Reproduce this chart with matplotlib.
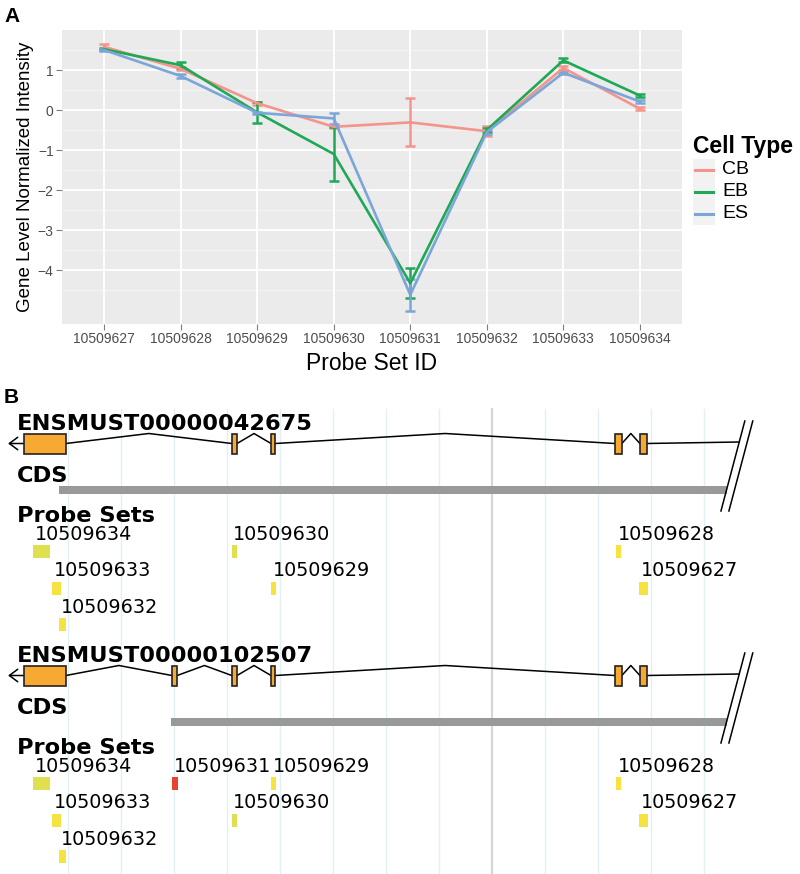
import numpy as np
import matplotlib.pyplot as plt
from matplotlib.patches import Rectangle

plt.rcParams['font.family'] = ['Liberation Sans', 'DejaVu Sans']

# ---- panel A data ----
probe_ids = ['10509627', '10509628', '10509629', '10509630',
             '10509631', '10509632', '10509633', '10509634']
cell_types = ['CB', 'EB', 'ES']
cb_mean = [1.58, 1.03, 0.17, -0.42, -0.31, -0.53, 1.05, 0.03]
cb_err = [0.07, 0.04, 0.04, 0.04, 0.60, 0.13, 0.04, 0.04]
eb_mean = [1.52, 1.12, -0.06, -1.10, -4.33, -0.50, 1.24, 0.36]
eb_err = [0.03, 0.07, 0.26, 0.67, 0.37, 0.04, 0.05, 0.04]
es_mean = [1.50, 0.85, -0.07, -0.21, -4.62, -0.55, 0.93, 0.21]
es_err = [0.03, 0.04, 0.03, 0.13, 0.40, 0.04, 0.03, 0.04]
colors = ['#F4948B', '#1FA856', '#7BA6D8']

# ---- panel B data (positions in kb along the locus) ----
transcripts = ['ENSMUST00000042675', 'ENSMUST00000102507']
exons_t1 = [(-0.83, -0.04), (3.09, 3.19), (3.83, 3.91), (10.32, 10.45), (10.79, 10.92)]
exons_t2 = [(-0.83, -0.04), (1.96, 2.06), (3.09, 3.19), (3.83, 3.91), (10.32, 10.45), (10.79, 10.92)]
cds_t1 = (-0.17, 12.43)
cds_t2 = (1.94, 12.43)
locus_end = 12.66
tss_tip = -1.13

probes_t1 = ['10509634', '10509633', '10509632', '10509630', '10509629', '10509628', '10509627']
pstart_t1 = [-0.66, -0.30, -0.17, 3.09, 3.83, 10.34, 10.77]
pend_t1 = [-0.34, -0.13, -0.04, 3.19, 3.92, 10.43, 10.94]
prow_t1 = [0, 1, 2, 0, 1, 0, 1]
pcol_t1 = ['#DFE04F', '#F7E33F', '#F7E33F', '#DFE04F', '#F7E33F', '#F7E33F', '#F7E33F']

probes_t2 = ['10509634', '10509633', '10509632', '10509631', '10509630', '10509629', '10509628', '10509627']
pstart_t2 = [-0.66, -0.30, -0.17, 1.96, 3.09, 3.83, 10.34, 10.77]
pend_t2 = [-0.34, -0.13, -0.04, 2.08, 3.19, 3.92, 10.43, 10.94]
prow_t2 = [0, 1, 2, 0, 1, 0, 0, 1]
pcol_t2 = ['#DFE04F', '#F7E33F', '#F7E33F', '#E84330', '#DFE04F', '#F7E33F', '#F7E33F', '#F7E33F']

grid_kb = np.arange(0, 13)

W, H = 800, 874
fig = plt.figure(figsize=(W / 100, H / 100), dpi=100)


def px_axes(l, t, r, b):
    return fig.add_axes([l / W, 1 - b / H, (r - l) / W, (b - t) / H])


# ---------------- Panel A ----------------
axA = px_axes(62, 30, 682, 324)
axA.set_facecolor('#EBEBEB')
x = np.arange(1, len(probe_ids) + 1)
for yv in np.arange(-5, 2.01, 0.5):
    if yv != int(yv):
        axA.axhline(yv, color='#F5F5F5', lw=0.7, zorder=0)
for yv in range(-4, 2):
    axA.axhline(yv, color='white', lw=1.3, zorder=0)
for xv in x:
    axA.axvline(xv, color='white', lw=1.3, zorder=0)

for mean, err, c in zip([cb_mean, eb_mean, es_mean], [cb_err, eb_err, es_err], colors):
    axA.errorbar(x, mean, yerr=err, color=c, lw=1.9, elinewidth=1.8,
                 capsize=3.5, capthick=1.8, zorder=3)

axA.set_xlim(0.45, 8.55)
axA.set_ylim(-5.35, 2.0)
axA.set_xticks(x)
axA.set_xticklabels(probe_ids)
axA.set_yticks(range(-4, 2))
for s in axA.spines.values():
    s.set_visible(False)
axA.tick_params(length=4, width=0.8, color='#7F7F7F', labelcolor='#4D4D4D',
                labelsize=10, pad=2)
axA.set_xlabel('Probe Set ID', fontsize=16.5, labelpad=4)
axA.set_ylabel('Gene Level Normalized Intensity', fontsize=13.5, labelpad=3)

# ---------------- Panel B ----------------
axB = fig.add_axes([0, 0, 1, (H - 380) / H])
axB.set_xlim(-68 / 53, (W - 68) / 53)
axB.set_ylim(H, 380)
axB.axis('off')

# overlay in pixel coordinates for labels/legend (on top)
axO = fig.add_axes([0, 0, 1, 1])
axO.set_xlim(0, W)
axO.set_ylim(H, 0)
axO.axis('off')
axO.set_zorder(5)

# legend
axO.text(693, 147, 'Cell Type', fontsize=16.5, fontweight='bold', va='center', ha='left')
for i, (name, c) in enumerate(zip(cell_types, colors)):
    yc = 170 + 22 * i
    axO.add_patch(Rectangle((693, yc - 11), 22, 22, fc='#F2F2F2', ec='none'))
    axO.plot([695, 713], [yc, yc], color=c, lw=2.2)
    axO.text(722, yc, name, fontsize=14, va='center', ha='left')

axO.text(4, 22, 'A', fontsize=15, fontweight='bold', va='baseline')
axO.text(4, 403, 'B', fontsize=15, fontweight='bold', va='baseline')

for g in grid_kb:
    axB.plot([g, g], [409, H], color='#D6D6D6' if g == 8 else '#E2F0F4',
             lw=1.6 if g == 8 else 1.0, zorder=0)

bold = dict(family='DejaVu Sans', fontweight='bold', fontsize=16.2, va='baseline', ha='left')
tracks = [(430, transcripts[0], exons_t1, cds_t1, probes_t1, pstart_t1, pend_t1, prow_t1, pcol_t1),
          (662, transcripts[1], exons_t2, cds_t2, probes_t2, pstart_t2, pend_t2, prow_t2, pcol_t2)]

for base, name, exons, cds, pn, ps, pe, pr, pc in tracks:
    gy = base + 13.5
    axO.text(17, base, name, **bold)
    axO.text(17, base + 52, 'CDS', **bold)
    axO.text(17, base + 92, 'Probe Sets', **bold)

    # introns
    for (s0, e0), (s1, e1) in zip(exons[:-1], exons[1:]):
        mid = (e0 + s1) / 2
        axB.plot([e0, mid, s1], [gy, gy - 10, gy], color='black', lw=1.1, zorder=2)
    axB.plot([exons[-1][1], locus_end], [gy, gy - 1.5], color='black', lw=1.1, zorder=2)
    axB.annotate('', xy=(tss_tip, gy), xytext=(exons[0][0], gy),
                 arrowprops=dict(arrowstyle='->,head_length=0.6,head_width=0.45',
                                 lw=1.1, color='black', shrinkA=0, shrinkB=0))
    for s, e in exons:
        axB.add_patch(Rectangle((s, gy - 10), e - s, 20, fc='#F8A932', ec='#222222',
                                lw=1.2, zorder=3))

    # CDS
    axB.add_patch(Rectangle((cds[0], base + 55.5), cds[1] - cds[0], 8,
                            fc='#999999', ec='none', zorder=2))

    # break marks
    for off in (-0.075, 0.075):
        c0 = 12.62 + off
        axB.plot([c0 - 0.225, c0 + 0.225], [base + 81, base - 9], color='black', lw=1.1)

    # probe sets
    for n, s, e, r, c in zip(pn, ps, pe, pr, pc):
        top = base + 115 + 36.5 * r
        axB.add_patch(Rectangle((s, top), e - s, 13, fc=c, ec='none', zorder=3))
        axB.text(s + 0.03, top - 5, n, family='DejaVu Sans', fontsize=13.8,
                 va='baseline', ha='left', zorder=4)

fig.savefig('out.png', dpi=100)
